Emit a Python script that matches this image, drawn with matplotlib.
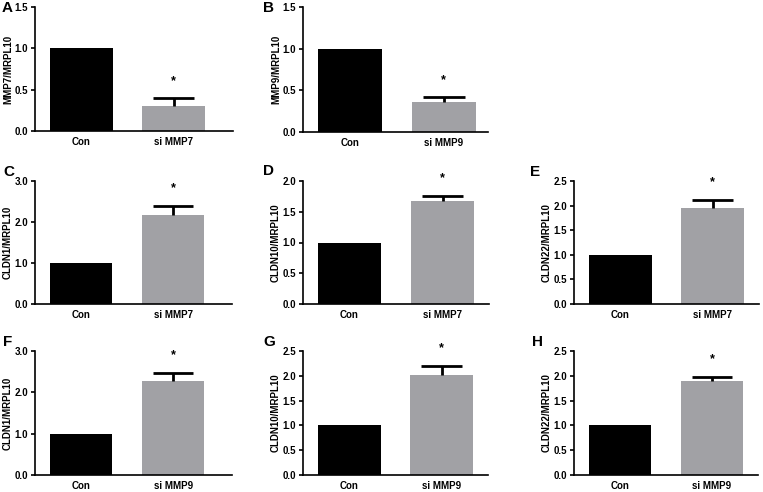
import matplotlib
matplotlib.use('Agg')
import matplotlib.pyplot as plt
from matplotlib.ticker import FormatStrFormatter

plt.rcParams['font.family'] = ['Liberation Sans', 'DejaVu Sans']
plt.rcParams['font.weight'] = 'bold'

# panel data
letters = ['A', 'B', 'C', 'D', 'E', 'F', 'G', 'H']
ylabels = ['MMP7/MRPL10', 'MMP9/MRPL10', 'CLDN1/MRPL10', 'CLDN10/MRPL10',
           'CLDN22/MRPL10', 'CLDN1/MRPL10', 'CLDN10/MRPL10', 'CLDN22/MRPL10']
groups = [['Con', 'si MMP7'], ['Con', 'si MMP9'], ['Con', 'si MMP7'], ['Con', 'si MMP7'],
          ['Con', 'si MMP7'], ['Con', 'si MMP9'], ['Con', 'si MMP9'], ['Con', 'si MMP9']]
con_vals = [1.0, 1.0, 1.0, 1.0, 1.0, 1.0, 1.0, 1.0]
si_vals = [0.30, 0.36, 2.18, 1.67, 1.95, 2.27, 2.01, 1.89]
si_errs = [0.10, 0.06, 0.20, 0.09, 0.17, 0.20, 0.18, 0.09]
star_y = [0.60, 0.62, 2.83, 2.05, 2.48, 2.90, 2.56, 2.34]
ymax = [1.5, 1.5, 3.0, 2.0, 2.5, 3.0, 2.5, 2.5]
ystep = [0.5, 0.5, 1.0, 0.5, 0.5, 1.0, 0.5, 0.5]

# axes boxes in pixels (left, top, right, bottom)
boxes = [(35, 7, 233, 131), (303, 7, 488, 132),
         (35, 181, 232, 304), (303, 181, 489, 304), (574, 181, 759, 304),
         (35, 351, 232, 475), (303, 351, 488, 475), (574, 351, 758, 475)]
xright = [1.64, 1.47, 1.64, 1.5, 1.5, 1.64, 1.5, 1.5]
letter_pos = [(2, 8), (263, 8), (3, 172), (263, 171), (530, 172),
              (3, 342), (263, 342), (532, 342)]

W, H = 763, 492
fig = plt.figure(figsize=(W / 100, H / 100), dpi=100)

for i in range(8):
    l, t, r, b = boxes[i]
    ax = fig.add_axes([l / W, 1 - b / H, (r - l) / W, (b - t) / H])
    ax.bar([0, 1], [con_vals[i], si_vals[i]], width=0.68,
           color=['black', '#a1a1a5'], edgecolor='none')
    # upper-only error bar with a single cap
    top = si_vals[i] + si_errs[i]
    ax.plot([1, 1], [si_vals[i], top], color='black', lw=2, solid_capstyle='butt')
    ax.hlines(top, 1 - 0.22, 1 + 0.22, color='black', lw=2)
    ax.text(1, star_y[i], '*', ha='center', va='center', fontsize=9,
            fontweight='bold', clip_on=False)
    ax.set_xlim(-0.5, xright[i])
    ax.set_ylim(0, ymax[i])
    yt = [k * ystep[i] for k in range(int(round(ymax[i] / ystep[i])) + 1)]
    ax.set_yticks(yt)
    ax.yaxis.set_major_formatter(FormatStrFormatter('%.1f'))
    ax.set_xticks([0, 1])
    ax.set_xticklabels(groups[i])
    ax.tick_params(axis='both', labelsize=7, width=1.2, length=3, pad=2)
    ax.tick_params(axis='x', length=0, pad=4)
    ax.set_ylabel(ylabels[i], fontsize=7, fontweight='bold')
    ax.yaxis.label.set_va('center')
    ax.yaxis.set_label_coords(-27 / (r - l), 0.5)
    for s in ['top', 'right']:
        ax.spines[s].set_visible(False)
    for s in ['left', 'bottom']:
        ax.spines[s].set_linewidth(1.2)
    lx, ly = letter_pos[i]
    fig.text(lx / W, 1 - ly / H, letters[i], fontsize=11, fontweight='bold',
             ha='left', va='center')

fig.savefig('out.png', dpi=100)
